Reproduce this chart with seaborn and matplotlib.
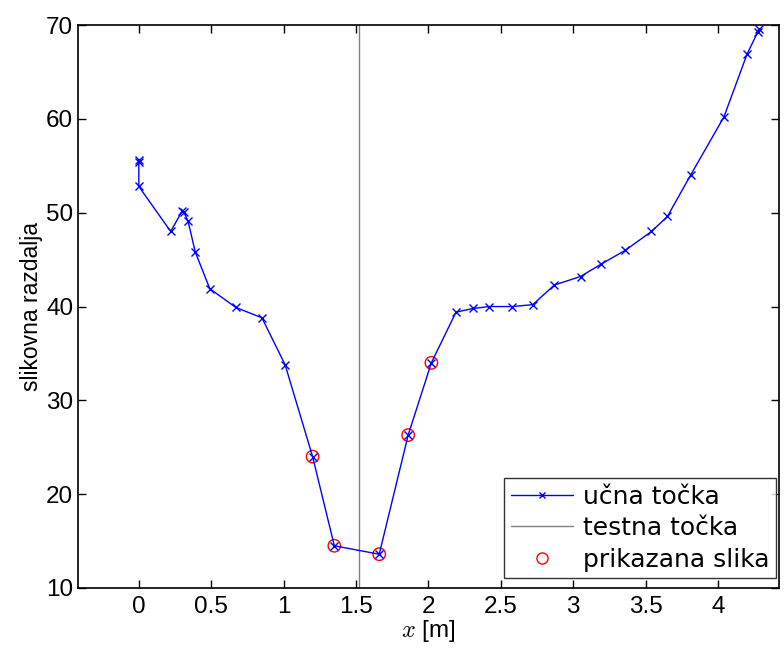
import matplotlib
matplotlib.use("Agg")
import matplotlib.pyplot as plt
import seaborn as sns
import pandas as pd
from matplotlib.lines import Line2D

# training points (position [m], image distance)
x_train = [0.0, 0.0, 0.0, 0.22, 0.30, 0.31, 0.34, 0.39, 0.49, 0.67, 0.85, 1.01,
           1.20, 1.35, 1.66, 1.86, 2.02, 2.19, 2.31, 2.42, 2.58, 2.72, 2.87,
           3.05, 3.19, 3.36, 3.54, 3.65, 3.81, 4.04, 4.20, 4.275, 4.28]
y_train = [55.6, 55.4, 52.8, 48.0, 50.2, 50.1, 49.1, 45.8, 41.9, 39.9, 38.8, 33.8,
           24.0, 14.5, 13.6, 26.3, 34.0, 39.4, 39.8, 40.0, 40.0, 40.2, 42.3,
           43.2, 44.5, 46.0, 48.0, 49.6, 54.0, 60.2, 66.9, 69.3, 69.6]
x_shown = [1.20, 1.35, 1.66, 1.86, 2.02]
y_shown = [24.0, 14.5, 13.6, 26.3, 34.0]
x_test = 1.52

xticks = [0, 0.5, 1, 1.5, 2, 2.5, 3, 3.5, 4]
xtick_labels = ["0", "0.5", "1", "1.5", "2", "2.5", "3", "3.5", "4"]
yticks = [10, 20, 30, 40, 50, 60, 70]
legend_labels = ["učna točka", "testna točka", "prikazana slika"]

sns.set_style("ticks")
plt.rcParams["font.family"] = ["Liberation Sans", "DejaVu Sans"]
plt.rcParams["mathtext.fontset"] = "cm"
plt.rcParams["xtick.direction"] = "in"
plt.rcParams["ytick.direction"] = "in"
plt.rcParams["text.color"] = "black"
plt.rcParams["axes.labelcolor"] = "black"
plt.rcParams["xtick.color"] = "black"
plt.rcParams["ytick.color"] = "black"

fig = plt.figure(figsize=(7.84, 6.5), dpi=100)
ax = fig.add_axes([0.0995, 0.0954, 0.894, 0.866])

df_train = pd.DataFrame({"x": x_train, "y": y_train})
df_shown = pd.DataFrame({"x": x_shown, "y": y_shown})

ax.axvline(x_test, color="#808080", lw=1.0, zorder=1)
sns.lineplot(data=df_train, x="x", y="y", sort=False, estimator=None,
             color="blue", lw=1.0, marker="x", markersize=6,
             markeredgewidth=1.0, markeredgecolor="blue", ax=ax, zorder=3)
sns.scatterplot(data=df_shown, x="x", y="y", marker="o", s=80,
                facecolors="none", edgecolor="red", linewidth=1.0, ax=ax, zorder=2)

ax.set_xlim(-0.42, 4.42)
ax.set_ylim(10, 70)
ax.set_xticks(xticks)
ax.set_xticklabels(xtick_labels)
ax.set_yticks(yticks)
ax.tick_params(axis="both", labelsize=17.5, length=6, width=1, top=True, right=True,
               color="black", labelcolor="black")
ax.tick_params(axis="x", pad=6)
for s in ax.spines.values():
    s.set_linewidth(1.2)
    s.set_color("black")

ax.set_xlabel("$x$ [m]", fontsize=17.5, labelpad=0, color="black")
ax.set_ylabel("slikovna razdalja", fontsize=16.5, labelpad=2, color="black")

handles = [
    Line2D([], [], color="blue", lw=1.0, marker="x", markersize=5, markeredgewidth=1.0),
    Line2D([], [], color="#808080", lw=1.0),
    Line2D([], [], color="red", lw=0, marker="o", markersize=8,
           markerfacecolor="none", markeredgewidth=1.0),
]
leg = ax.legend(handles, legend_labels, loc="lower right",
                bbox_to_anchor=(0.9957, 0.0178),
                frameon=True, fancybox=False, edgecolor="black",
                borderaxespad=0.0, handlelength=2.5, handletextpad=0.4,
                labelspacing=0.3, borderpad=0.25,
                prop={"family": ["DejaVu Sans"], "size": 18})
leg.get_frame().set_linewidth(1.0)
for t in leg.get_texts():
    t.set_color("black")

fig.savefig("out.png", dpi=100)
